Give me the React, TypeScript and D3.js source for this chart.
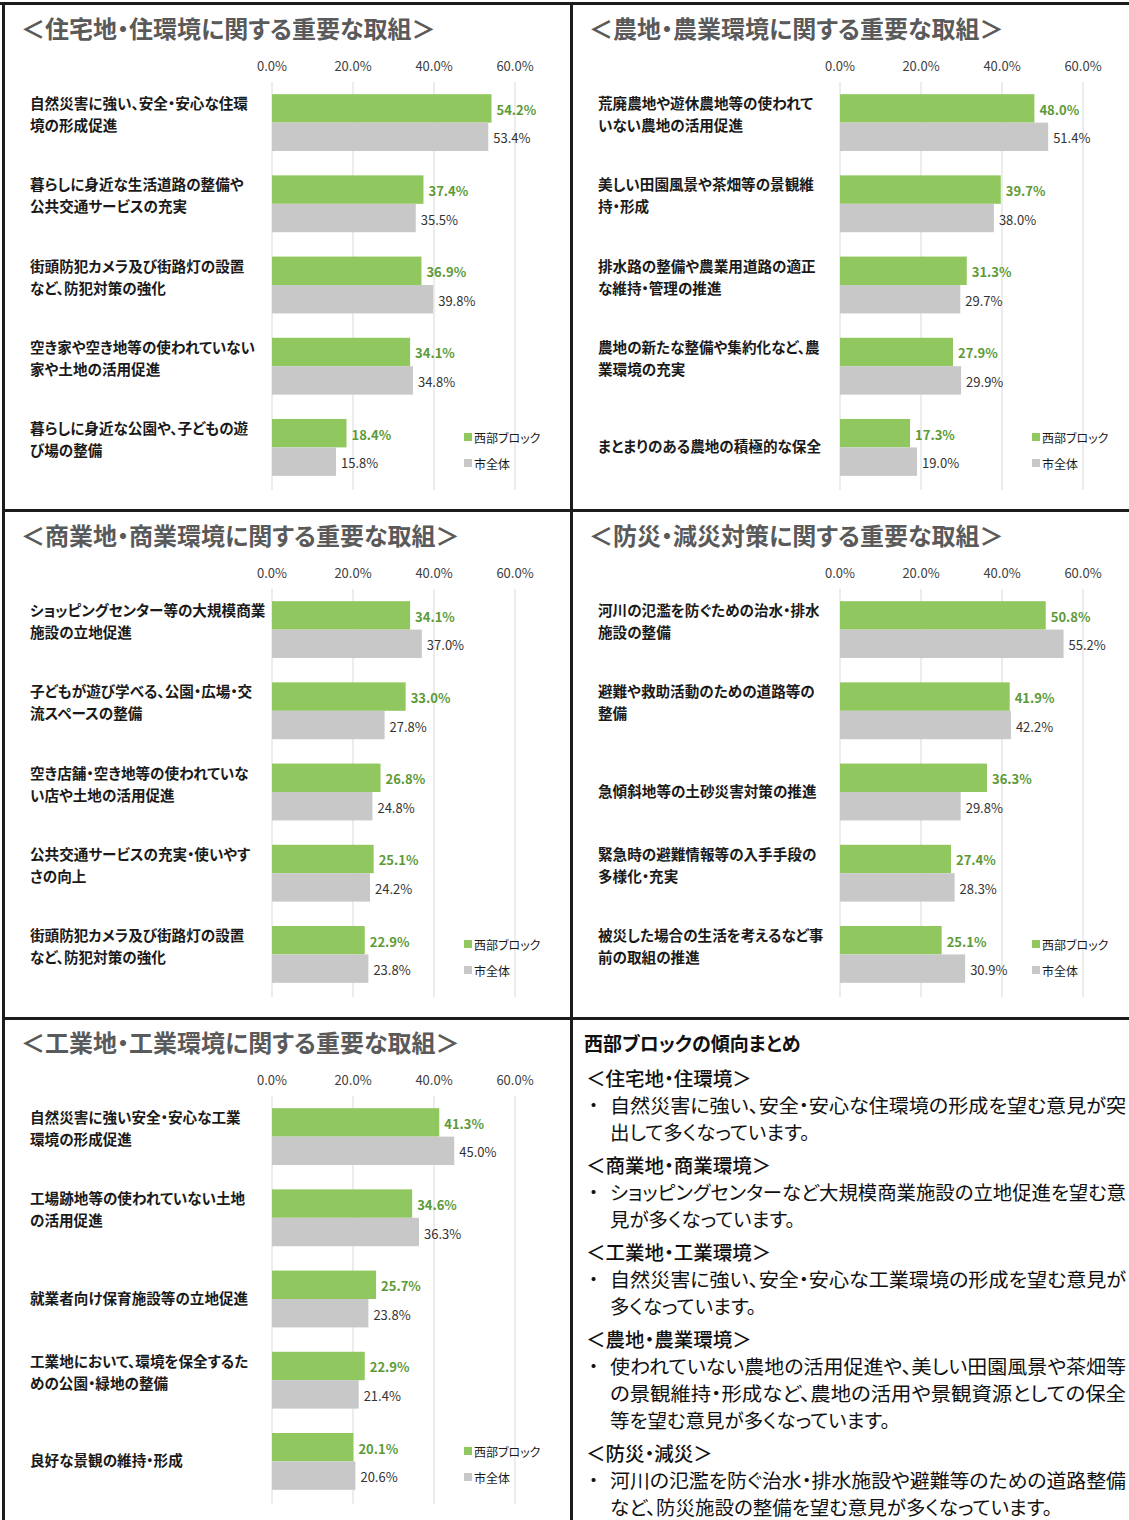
import React from 'react';
import * as d3 from 'd3';

// ---------- data ----------
const seriesNames = ['西部ブロック', '市全体'];
const axisTicks = [0, 20, 40, 60];

const residentialTitle = '＜住宅地・住環境に関する重要な取組＞';
const residentialCats = [
  '自然災害に強い、安全・安心な住環\n境の形成促進',
  '暮らしに身近な生活道路の整備や\n公共交通サービスの充実',
  '街頭防犯カメラ及び街路灯の設置\nなど、防犯対策の強化',
  '空き家や空き地等の使われていない\n家や土地の活用促進',
  '暮らしに身近な公園や、子どもの遊\nび場の整備',
];
const residentialWest = [54.2, 37.4, 36.9, 34.1, 18.4];
const residentialCity = [53.4, 35.5, 39.8, 34.8, 15.8];

const farmTitle = '＜農地・農業環境に関する重要な取組＞';
const farmCats = [
  '荒廃農地や遊休農地等の使われて\nいない農地の活用促進',
  '美しい田園風景や茶畑等の景観維\n持・形成',
  '排水路の整備や農業用道路の適正\nな維持・管理の推進',
  '農地の新たな整備や集約化など、農\n業環境の充実',
  'まとまりのある農地の積極的な保全',
];
const farmWest = [48.0, 39.7, 31.3, 27.9, 17.3];
const farmCity = [51.4, 38.0, 29.7, 29.9, 19.0];

const commercialTitle = '＜商業地・商業環境に関する重要な取組＞';
const commercialCats = [
  'ショッピングセンター等の大規模商業\n施設の立地促進',
  '子どもが遊び学べる、公園・広場・交\n流スペースの整備',
  '空き店舗・空き地等の使われていな\nい店や土地の活用促進',
  '公共交通サービスの充実・使いやす\nさの向上',
  '街頭防犯カメラ及び街路灯の設置\nなど、防犯対策の強化',
];
const commercialWest = [34.1, 33.0, 26.8, 25.1, 22.9];
const commercialCity = [37.0, 27.8, 24.8, 24.2, 23.8];

const disasterTitle = '＜防災・減災対策に関する重要な取組＞';
const disasterCats = [
  '河川の氾濫を防ぐための治水・排水\n施設の整備',
  '避難や救助活動のための道路等の\n整備',
  '急傾斜地等の土砂災害対策の推進',
  '緊急時の避難情報等の入手手段の\n多様化・充実',
  '被災した場合の生活を考えるなど事\n前の取組の推進',
];
const disasterWest = [50.8, 41.9, 36.3, 27.4, 25.1];
const disasterCity = [55.2, 42.2, 29.8, 28.3, 30.9];

const industrialTitle = '＜工業地・工業環境に関する重要な取組＞';
const industrialCats = [
  '自然災害に強い安全・安心な工業\n環境の形成促進',
  '工場跡地等の使われていない土地\nの活用促進',
  '就業者向け保育施設等の立地促進',
  '工業地において、環境を保全するた\nめの公園・緑地の整備',
  '良好な景観の維持・形成',
];
const industrialWest = [41.3, 34.6, 25.7, 22.9, 20.1];
const industrialCity = [45.0, 36.3, 23.8, 21.4, 20.6];

const summaryTitle = '西部ブロックの傾向まとめ';
const summaryHeads = ['＜住宅地・住環境＞', '＜商業地・商業環境＞', '＜工業地・工業環境＞', '＜農地・農業環境＞', '＜防災・減災＞'];
const summaryBodies = [
  ['自然災害に強い、安全・安心な住環境の形成を望む意見が突', '出して多くなっています。'],
  ['ショッピングセンターなど大規模商業施設の立地促進を望む意', '見が多くなっています。'],
  ['自然災害に強い、安全・安心な工業環境の形成を望む意見が', '多くなっています。'],
  ['使われていない農地の活用促進や、美しい田園風景や茶畑等', 'の景観維持・形成など、農地の活用や景観資源としての保全', '等を望む意見が多くなっています。'],
  ['河川の氾濫を防ぐ治水・排水施設や避難等のための道路整備', 'など、防災施設の整備を望む意見が多くなっています。'],
];

// ---------- style ----------
const FONT = '"Noto Sans CJK JP", "Noto Sans", sans-serif';
const GREEN = '#91c75f';
const GRAY = '#c8c8c8';
const GREEN_TEXT = '#5d9a37';
const BORDER = '#1c1c1c';
const PALT = { fontFeatureSettings: '"palt"' } as React.CSSProperties;
const fmt = (v: number) => d3.format('.1f')(v) + '%';

type PanelProps = {
  title: string;
  cats: string[];
  west: number[];
  city: number[];
  px: number;
  py: number;
};

function Panel({ title, cats, west, city, px, py }: PanelProps) {
  const x = d3.scaleLinear().domain([0, 60]).range([px + 269, px + 512]);
  const y = d3
    .scaleBand<string>()
    .domain(cats)
    .range([py + 79, py + 485])
    .paddingInner(0.3)
    .paddingOuter(0.15);
  const sub = d3.scaleBand<string>().domain(seriesNames).range([0, y.bandwidth()]);
  const colors = [GREEN, GRAY];
  return (
    <g>
      <text x={px + 18} y={py + 24} dominantBaseline="central" fontSize={24} fontWeight={700} fill="#5a5a5a" style={PALT}>
        {title}
      </text>
      {axisTicks.map((t) => (
        <g key={t}>
          <line x1={x(t)} x2={x(t)} y1={py + 79} y2={py + 487} stroke="#d9d9d9" strokeWidth={1} />
          <text x={x(t)} y={py + 62} textAnchor="middle" dominantBaseline="central" fontSize={13} fill="#404040">
            {fmt(t)}
          </text>
        </g>
      ))}
      {cats.map((c, i) => {
        const y0 = y(c)!;
        const center = y0 + y.bandwidth() / 2;
        const lines = c.split('\n');
        const vals = [west[i], city[i]];
        return (
          <g key={c}>
            {lines.map((ln, j) => (
              <text
                key={j}
                x={px + 27}
                y={lines.length === 1 ? center - 2 : center - 20 + j * 22}
                dominantBaseline="central"
                fontSize={14.6}
                fontWeight={700}
                fill="#1a1a1a"
                style={PALT}
              >
                {ln}
              </text>
            ))}
            {vals.map((v, k) => {
              const by = y0 + sub(seriesNames[k])!;
              return (
                <g key={k}>
                  <rect x={x(0)} y={by} width={x(v) - x(0)} height={sub.bandwidth()} fill={colors[k]} />
                  <text
                    x={x(v) + 5}
                    y={by + sub.bandwidth() / 2 + 1}
                    dominantBaseline="central"
                    fontSize={13}
                    fontWeight={k === 0 ? 700 : 400}
                    fill={k === 0 ? GREEN_TEXT : '#333'}
                  >
                    {fmt(v)}
                  </text>
                </g>
              );
            })}
          </g>
        );
      })}
      {seriesNames.map((s, k) => {
        const ly = py + 434 + k * 26;
        return (
          <g key={s}>
            <rect x={px + 461} y={ly - 4} width={8} height={8} fill={colors[k]} />
            <text x={px + 471} y={ly} dominantBaseline="central" fontSize={12} fill="#1a1a1a" style={PALT}>
              {s}
            </text>
          </g>
        );
      })}
    </g>
  );
}

function Summary({ px, py }: { px: number; py: number }) {
  const rows: React.ReactNode[] = [];
  let cy = py + 59;
  summaryHeads.forEach((h, i) => {
    rows.push(
      <text key={'h' + i} x={px + 15} y={cy} dominantBaseline="central" fontSize={19.5} fontWeight={500} fill="#111" style={PALT}>
        {h}
      </text>
    );
    cy += 27;
    const body = summaryBodies[i];
    body.forEach((ln, j) => {
      if (j === 0) {
        rows.push(
          <text key={'b' + i} x={px + 13} y={cy} dominantBaseline="central" fontSize={19} fill="#111">
            ・
          </text>
        );
      }
      const full = j < body.length - 1;
      rows.push(
        <text
          key={'l' + i + '-' + j}
          x={px + 39}
          y={cy}
          dominantBaseline="central"
          fontSize={19.5}
          fill="#111"
          style={PALT}
          textLength={full ? 516 : undefined}
          lengthAdjust={full ? 'spacingAndGlyphs' : undefined}
        >
          {ln}
        </text>
      );
      cy += 27;
    });
    cy += 6;
  });
  return (
    <g>
      <text x={px + 13} y={py + 24} dominantBaseline="central" fontSize={19} fontWeight={700} fill="#111" style={PALT}>
        {summaryTitle}
      </text>
      {rows}
    </g>
  );
}

export default function App() {
  const W = 1129;
  const H = 1520;
  const colX = [3, 571];
  const rowY = [3, 510, 1018];
  return (
    <svg
      width={W}
      height={H}
      style={{ position: 'absolute', left: 0, top: 0, background: '#fff' }}
      fontFamily={FONT}
    >
      <rect x={0} y={0} width={W} height={H} fill="#fff" />
      <Panel title={residentialTitle} cats={residentialCats} west={residentialWest} city={residentialCity} px={colX[0]} py={rowY[0]} />
      <Panel title={farmTitle} cats={farmCats} west={farmWest} city={farmCity} px={colX[1]} py={rowY[0]} />
      <Panel title={commercialTitle} cats={commercialCats} west={commercialWest} city={commercialCity} px={colX[0]} py={rowY[1]} />
      <Panel title={disasterTitle} cats={disasterCats} west={disasterWest} city={disasterCity} px={colX[1]} py={rowY[1]} />
      <Panel title={industrialTitle} cats={industrialCats} west={industrialWest} city={industrialCity} px={colX[0]} py={rowY[2] - 1} />
      <Summary px={colX[1]} py={rowY[2]} />
      {/* borders */}
      <line x1={0} x2={W} y1={3.5} y2={3.5} stroke={BORDER} strokeWidth={3} />
      <line x1={3.5} x2={3.5} y1={2} y2={H} stroke={BORDER} strokeWidth={3} />
      <line x1={571.5} x2={571.5} y1={2} y2={H} stroke={BORDER} strokeWidth={3} />
      <line x1={2} x2={W} y1={510.5} y2={510.5} stroke={BORDER} strokeWidth={3} />
      <line x1={2} x2={W} y1={1018.5} y2={1018.5} stroke={BORDER} strokeWidth={3} />
    </svg>
  );
}
